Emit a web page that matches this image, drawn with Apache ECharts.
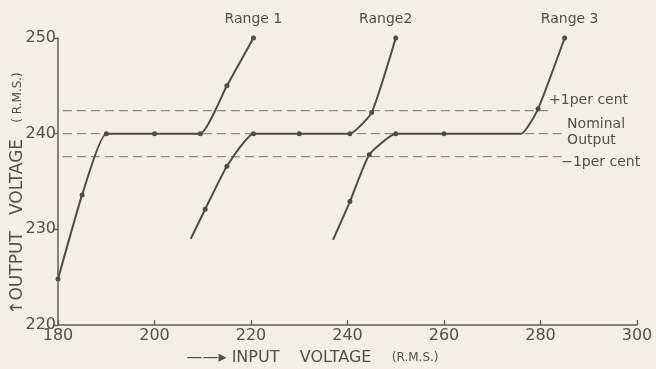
<!DOCTYPE html>
<html>
<head>
<meta charset="utf-8">
<script src="https://cdn.jsdelivr.net/npm/echarts@6/dist/echarts.min.js"></script>
<style>
html,body{margin:0;padding:0;background:#f4efe2;}
#c{width:656px;height:369px;}
</style>
</head>
<body>
<div id="c"></div>
<script>
// Measured curves (input voltage, output voltage)
const range1X = [180, 185, 190, 200, 209.5, 215, 220.5];
const range1Y = [224.8, 233.6, 240, 240, 240, 245, 250];
const range1Marked = [1, 1, 1, 1, 1, 1, 1];

const range2X = [207.5, 210.5, 215, 220.5, 230, 240.5, 245, 250];
const range2Y = [229, 232.1, 236.6, 240, 240, 240, 242.2, 250];
const range2Marked = [0, 1, 1, 1, 1, 1, 1, 1];

const range3X = [237, 240.5, 244.5, 250, 260, 276, 279.5, 285];
const range3Y = [228.9, 232.9, 237.8, 240, 240, 240, 242.6, 250];
const range3Marked = [0, 1, 1, 1, 1, 0, 1, 1];

const rangeNames = ['Range 1', 'Range2', 'Range 3'];

// Tolerance reference lines
const refNames = ['+1per cent', 'Nominal\nOutput', '\u22121per cent'];
const refLevels = [242.4, 240, 237.6];
const refStartX = [181, 181, 181];
const refEndX = [282.4, 285.1, 284.7];

const xTicks = [180, 200, 220, 240, 260, 280, 300];
const yTicks = [220, 230, 240, 250];

const ink = '#4b4e43';
const textInk = '#4f5247';
const dashInk = '#8b8c80';
const font = 'DejaVu Sans';

function curve(name, xs, ys, marked, labelOffset) {
  const data = xs.map((x, i) => {
    const item = { value: [x, ys[i]] };
    if (!marked[i]) item.symbol = 'none';
    if (i === xs.length - 1) {
      item.label = {
        show: true, position: 'top', formatter: name, distance: 9,
        offset: labelOffset, color: textInk, fontFamily: font, fontSize: 14
      };
    }
    return item;
  });
  return {
    type: 'line', name, data, smooth: 0.15,
    symbol: 'circle', symbolSize: 5, showSymbol: true,
    itemStyle: { color: ink },
    lineStyle: { color: ink, width: 2 },
    z: 5, animation: false
  };
}

const endLabelCfg = [
  { offset: [-7, -10], lineHeight: 15 },
  { offset: [-2, -1], lineHeight: 16 },
  { offset: [-6, 6], lineHeight: 15 }
];

const refSeries = refLevels.map((lv, i) => ({
  type: 'line', name: refNames[i],
  data: [[refStartX[i], lv], [refEndX[i], lv]],
  symbol: 'none',
  lineStyle: { color: dashInk, width: 1.3, type: [9, 5] },
  endLabel: {
    show: true, formatter: refNames[i], color: textInk, fontFamily: font,
    fontSize: 14, align: 'left', verticalAlign: 'middle', distance: 4,
    offset: endLabelCfg[i].offset, lineHeight: endLabelCfg[i].lineHeight
  },
  z: 3, animation: false
}));

const chart = echarts.init(document.getElementById('c'));
chart.setOption({
  backgroundColor: '#f4efe2',
  animation: false,
  grid: { left: 58, right: 19, top: 38, bottom: 44, containLabel: false, outerBoundsMode: 'none' },
  xAxis: {
    type: 'value', min: 180, max: 300, interval: 20,
    axisLine: { show: true, lineStyle: { color: '#5c6152', width: 1.5 } },
    axisTick: { show: true, inside: true, length: 5, lineStyle: { color: '#5c6152', width: 1.3 } },
    splitLine: { show: false },
    axisLabel: { color: textInk, fontFamily: font, fontSize: 16, margin: 3,
      formatter: v => xTicks.includes(v) ? String(v) : '' },
    name: '——\u25B8 INPUT    VOLTAGE    {s|(R.M.S.)}',
    nameLocation: 'middle', nameGap: 25, nameMoveOverlap: false,
    nameTextStyle: { color: textInk, fontFamily: font, fontSize: 16, padding: [0, 70, 0, 0],
      rich: { s: { fontSize: 12, fontFamily: font, color: textInk } } }
  },
  yAxis: {
    type: 'value', min: 220, max: 250, interval: 10,
    axisLine: { show: true, lineStyle: { color: '#5c6152', width: 1.5 } },
    axisTick: { show: true, inside: false, length: 4, lineStyle: { color: '#5c6152', width: 1.3 } },
    splitLine: { show: false },
    axisLabel: { color: textInk, fontFamily: font, fontSize: 16, margin: 2,
      formatter: v => yTicks.includes(v) ? String(v) : '' },
    name: '\u2191OUTPUT   VOLTAGE   {s|( R.M.S.)}',
    nameLocation: 'middle', nameRotate: 90, nameGap: 32, nameMoveOverlap: false,
    nameTextStyle: { color: textInk, fontFamily: font, fontSize: 17, padding: [0, 24, 0, 0],
      rich: { s: { fontSize: 12, fontFamily: font, color: textInk } } }
  },
  series: [
    ...refSeries,
    curve(rangeNames[0], range1X, range1Y, range1Marked, [0, 0]),
    curve(rangeNames[1], range2X, range2Y, range2Marked, [-10, 0]),
    curve(rangeNames[2], range3X, range3Y, range3Marked, [5, 0])
  ]
});
</script>
</body>
</html>
